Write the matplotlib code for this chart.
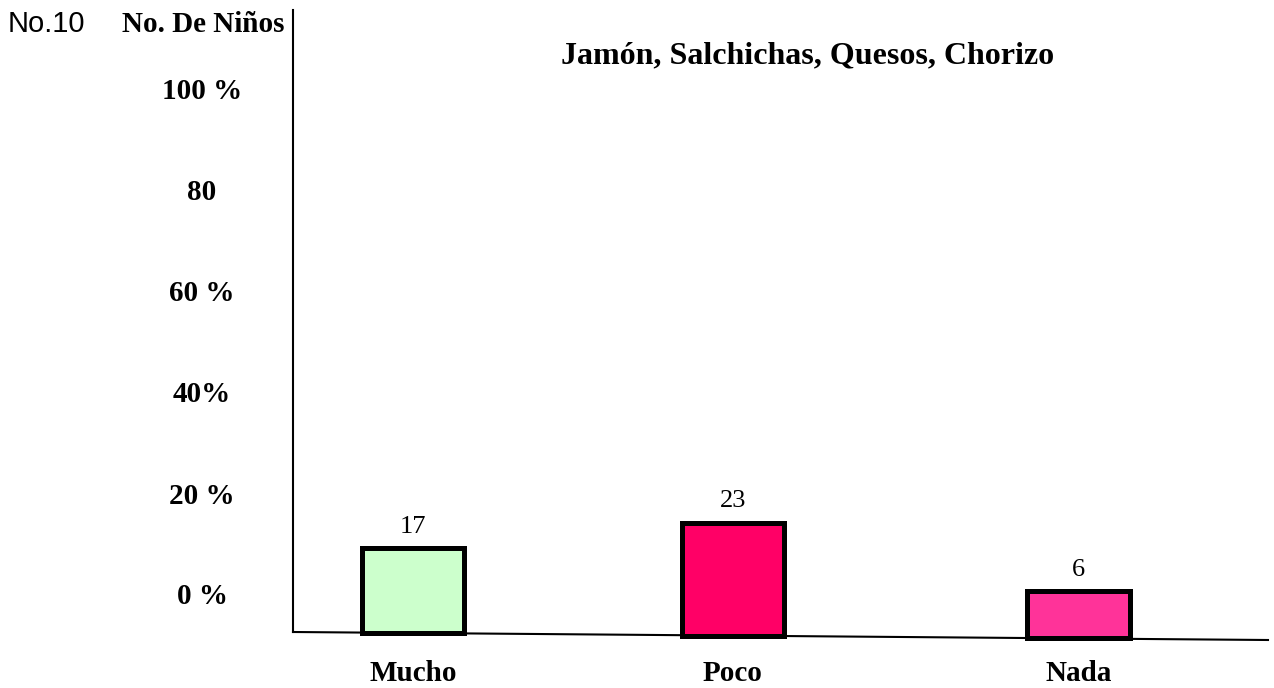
import matplotlib.pyplot as plt
import numpy as np

# datos
categorias = ['Mucho', 'Poco', 'Nada']
ninos = [17, 23, 6]
alturas = [17, 22.6, 9.5]        # altura dibujada de cada barra
etiquetas_y = ['0 %', '20 %', '40%', '60 %', '80', '100 %']
valores_y = [0, 20, 40, 60, 80, 100]

titulo = 'Jamón, Salchichas, Quesos, Chorizo'
colores = ['#CCFFCC', '#FF0066', '#FF3399']

# disposicion
pos_x = [0, 1, 2.08]
desfase_y = 7.6          # las etiquetas del eje no arrancan en la base
escala_y = 1.01
caida_base = 8 / 5       # la linea base baja ~8 px de izquierda a derecha
serif = 'Liberation Serif'

fig = plt.figure(figsize=(12.74, 6.88), dpi=100)
ax = fig.add_axes([293 / 1274, 1 - 632 / 688, 975 / 1274, 622 / 688])
ax.set_xlim(-0.375, 2.672)
ax.set_ylim(0, 124.4)

for s in ['top', 'right', 'bottom']:
    ax.spines[s].set_visible(False)
ax.spines['left'].set_linewidth(1.5)
ax.spines['left'].set_color('black')

# linea base ligeramente inclinada
ax.plot([0, 1], [0, -caida_base / 124.4], transform=ax.transAxes,
        color='black', lw=1.5, clip_on=False)

x0, x1 = ax.get_xlim()
fondos = [-caida_base * (x - x0) / (x1 - x0) for x in pos_x]

barras = ax.bar(pos_x, alturas, bottom=fondos, width=0.32, color=colores,
                edgecolor='black', linewidth=3.6, clip_on=False)

for x, b, h, n in zip(pos_x, fondos, alturas, ninos):
    ax.annotate(str(n), (x, b + h), xytext=(0, 11), textcoords='offset points',
                ha='center', va='baseline', fontsize=19, family=serif)

ax.set_xticks(pos_x, categorias, fontsize=21, fontweight='bold', family=serif)
ax.tick_params(axis='x', length=0, pad=20)

ax.set_yticks([desfase_y + v * escala_y for v in valores_y], etiquetas_y,
              fontsize=21, fontweight='bold', family=serif)
ax.tick_params(axis='y', length=0, pad=65.5)
for t in ax.get_yticklabels():
    t.set_horizontalalignment('center')

fig.text(808 / 1274, 1 - 56 / 688, titulo, ha='center', va='center',
         fontsize=23, fontweight='bold', family=serif)
fig.text(8 / 1274, 1 - 24 / 688, 'No.10', ha='left', va='center',
         fontsize=21, family='Liberation Sans')
fig.text(285 / 1274, 1 - 25 / 688, 'No. De Niños', ha='right', va='center',
         fontsize=21, fontweight='bold', family=serif)

fig.savefig('out.png', dpi=100, facecolor='white')
